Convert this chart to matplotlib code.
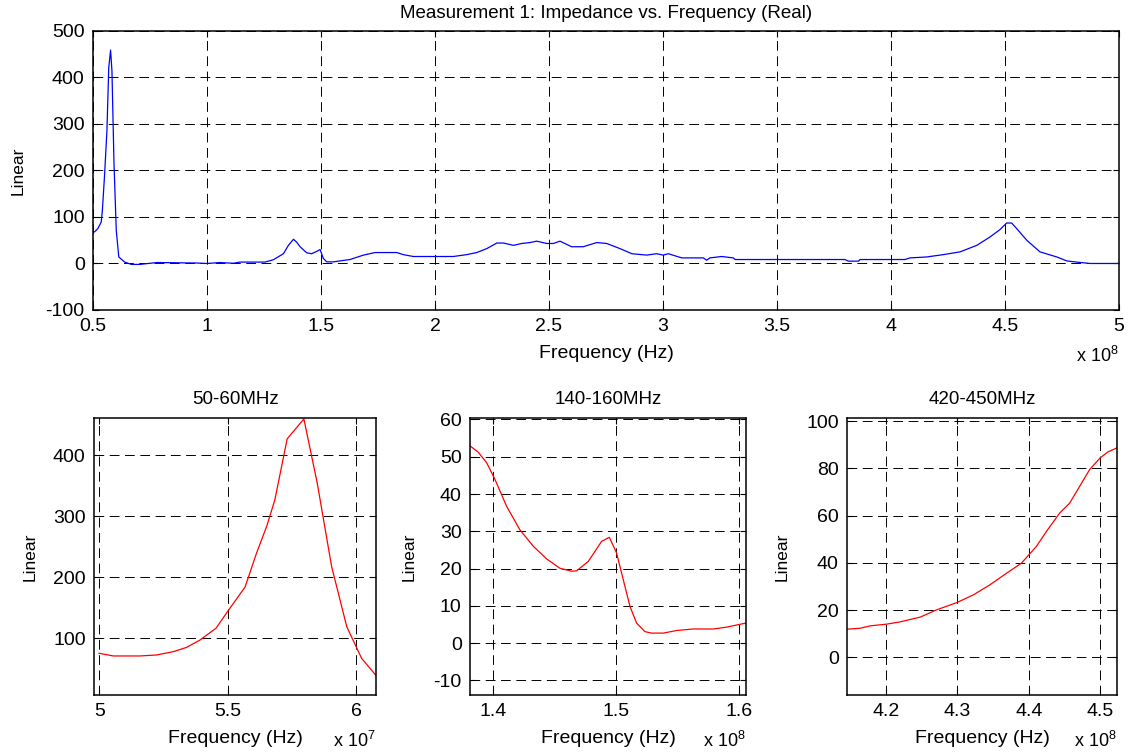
import matplotlib
matplotlib.use('Agg')
import matplotlib.pyplot as plt
from matplotlib.ticker import FuncFormatter

plt.rcParams['font.family'] = ['Liberation Sans', 'DejaVu Sans']
plt.rcParams['mathtext.fontset'] = 'custom'
plt.rcParams['mathtext.rm'] = 'Liberation Sans'
plt.rcParams['lines.scale_dashes'] = False
plt.rcParams['axes.unicode_minus'] = False

# full sweep, frequency in MHz, real part of impedance
full_freq = [50.7, 52.1, 53.6, 54.1, 55.1, 56.1, 56.9, 57.7, 58.3, 59.2, 60.2, 61.3, 63.9, 66.8,
             70.6, 77.9, 95.4, 99.9, 105.7, 111.5, 114.5, 125.4, 129.1, 133.5, 135.7, 137.9,
             139.3, 140.8, 143.7, 145.9, 148.1, 149.6, 151.0, 152.5, 155.4, 158.3, 162.7,
             168.6, 173.7, 183.2, 186.1, 190.5, 208.0, 213.9, 218.3, 222.7, 227.1, 230.0,
             234.4, 238.0, 241.7, 244.6, 249.0, 251.9, 254.8, 259.9, 265.0, 270.9, 275.3,
             281.1, 286.3, 292.8, 297.2, 300.1, 302.3, 308.2, 317.7, 319.1, 320.6, 325.7,
             330.8, 331.6, 379.8, 381.3, 385.7, 386.4, 406.1, 408.3, 415.6, 422.9, 430.3,
             437.6, 443.4, 447.8, 450.7, 452.9, 455.1, 459.5, 465.3, 472.7, 477.1, 481.4,
             487.3, 500.0]
full_real = [68, 75, 89, 114, 193, 286, 421, 459, 414, 215, 71, 14, 3, -2,
             -2, 2, 1, 0, 2, 0.5, 3, 3, 8, 21, 39, 52,
             46, 36, 23, 21, 26, 30, 11, 3.5, 3.5, 5.5, 8.5,
             18, 23.5, 23.5, 19, 15, 15, 19, 23.5, 32, 44, 44,
             39, 43, 45, 48, 43, 43, 48, 36, 36, 45, 43,
             32, 21, 18, 21, 18, 21, 12, 12, 7, 12, 15,
             12, 8.5, 8.5, 5, 5, 8.5, 8.5, 12, 14, 19, 25,
             39, 57, 73, 87, 87, 75, 50, 25, 14, 5.5, 3,
             0, 0]

# 50-60 MHz detail
z1_freq = [50.0, 50.55, 51.58, 52.23, 52.88, 53.40, 53.92, 54.55, 55.0, 55.68, 56.13, 56.52,
           56.84, 57.32, 57.97, 58.49, 59.05, 59.64, 60.22, 60.80]
z1_real = [75.4, 71, 71, 72.6, 78, 85, 97, 116.5, 144, 184, 240, 283.4,
           327, 427, 459.7, 354.6, 217.7, 119, 67, 38]

# 140-160 MHz detail
z2_freq = [138.15, 138.78, 139.46, 140.14, 141.09, 142.17, 143.26, 144.35, 145.43, 146.39,
           146.79, 147.74, 148.83, 149.46, 150.05, 150.60, 151.14, 151.68, 152.36, 152.91,
           153.86, 154.95, 156.30, 157.93, 159.02, 160.6]
z2_real = [52.8, 51.2, 48.4, 43.9, 36.7, 30.4, 26, 22.6, 20.1, 19.3,
           19.4, 21.9, 27.3, 28.4, 24.2, 17, 9.9, 5.4, 3.1, 2.7,
           2.7, 3.4, 3.8, 3.8, 4.3, 5.4]

# 420-450 MHz detail
z3_freq = [414.5, 416.36, 417.76, 420.0, 421.96, 424.76, 427.09, 429.94, 432.22, 434.56,
           436.89, 438.99, 441.09, 442.49, 444.35, 445.75, 447.15, 448.55, 450.0, 451.12, 452.38]
z3_real = [11.9, 12.3, 13.3, 14, 15, 17, 20.1, 23.2, 26.4, 30.7,
           35.6, 39.9, 47, 53.3, 61.1, 65.3, 72.4, 79.5, 84.4, 87, 88.7]

top_ticks = [0.5, 1, 1.5, 2, 2.5, 3, 3.5, 4, 4.5, 5]
z1_ticks = [5, 5.5, 6]
z2_ticks = [1.4, 1.5, 1.6]
z3_ticks = [4.2, 4.3, 4.4, 4.5]

TS = 14


def style(ax, scale, ticks, exp, ylpad):
    ax.set_xticks([t * scale for t in ticks])
    ax.xaxis.set_major_formatter(FuncFormatter(lambda v, _: f'{v / scale:g}'))
    ax.tick_params(direction='in', top=True, right=True, length=4, width=0.8,
                   labelsize=TS, pad=6)
    ax.grid(True, color='k', linestyle=(0, (7, 4)), linewidth=0.7)
    for s in ax.spines.values():
        s.set_linewidth(1.1)
    ax.set_xlabel('Frequency (Hz)', fontsize=TS, labelpad=7)
    ax.set_ylabel('Linear', fontsize=12.5, labelpad=ylpad)
    ax.text(1.0, -0.165, r'x 10$^{\rm %d}$' % exp, transform=ax.transAxes,
            ha='right', va='center', fontsize=13)


fig = plt.figure(figsize=(11.33, 7.52), dpi=100)

ax = fig.add_axes([0.0821, 0.5878, 0.9056, 0.371])
ax.plot([f * 1e6 for f in full_freq], full_real, color='#0000ff', linewidth=0.9)
ax.set_xlim(0.5e8, 5e8)
ax.set_ylim(-100, 500)
ax.set_yticks(range(-100, 501, 100))
style(ax, 1e8, top_ticks, 8, 14)
ax.set_title('Measurement 1: Impedance vs. Frequency (Real)', fontsize=13.5, pad=9)

ax1 = fig.add_axes([0.083, 0.0758, 0.2489, 0.3684])
ax1.plot([f * 1e6 for f in z1_freq], z1_real, color='r', linewidth=0.9)
ax1.set_xlim(49.8e6, 60.78e6)
ax1.set_ylim(7, 461.3)
ax1.set_yticks([100, 200, 300, 400])
style(ax1, 1e7, z1_ticks, 7, 11)
ax1.set_title('50-60MHz', fontsize=13.5, pad=10)

ax2 = fig.add_axes([0.4148, 0.0758, 0.2436, 0.3684])
ax2.plot([f * 1e6 for f in z2_freq], z2_real, color='r', linewidth=0.9)
ax2.set_xlim(138.1e6, 160.6e6)
ax2.set_ylim(-13.9, 60.4)
ax2.set_yticks(range(-10, 61, 10))
style(ax2, 1e8, z2_ticks, 8, 12)
ax2.set_title('140-160MHz', fontsize=13.5, pad=10)

ax3 = fig.add_axes([0.7476, 0.0758, 0.2383, 0.3684])
ax3.plot([f * 1e6 for f in z3_freq], z3_real, color='r', linewidth=0.9)
ax3.set_xlim(414.5e6, 452.4e6)
ax3.set_ylim(-16, 101.4)
ax3.set_yticks(range(0, 101, 20))
style(ax3, 1e8, z3_ticks, 8, 12)
ax3.set_title('420-450MHz', fontsize=13.5, pad=10)

fig.savefig('out.png', dpi=100)
